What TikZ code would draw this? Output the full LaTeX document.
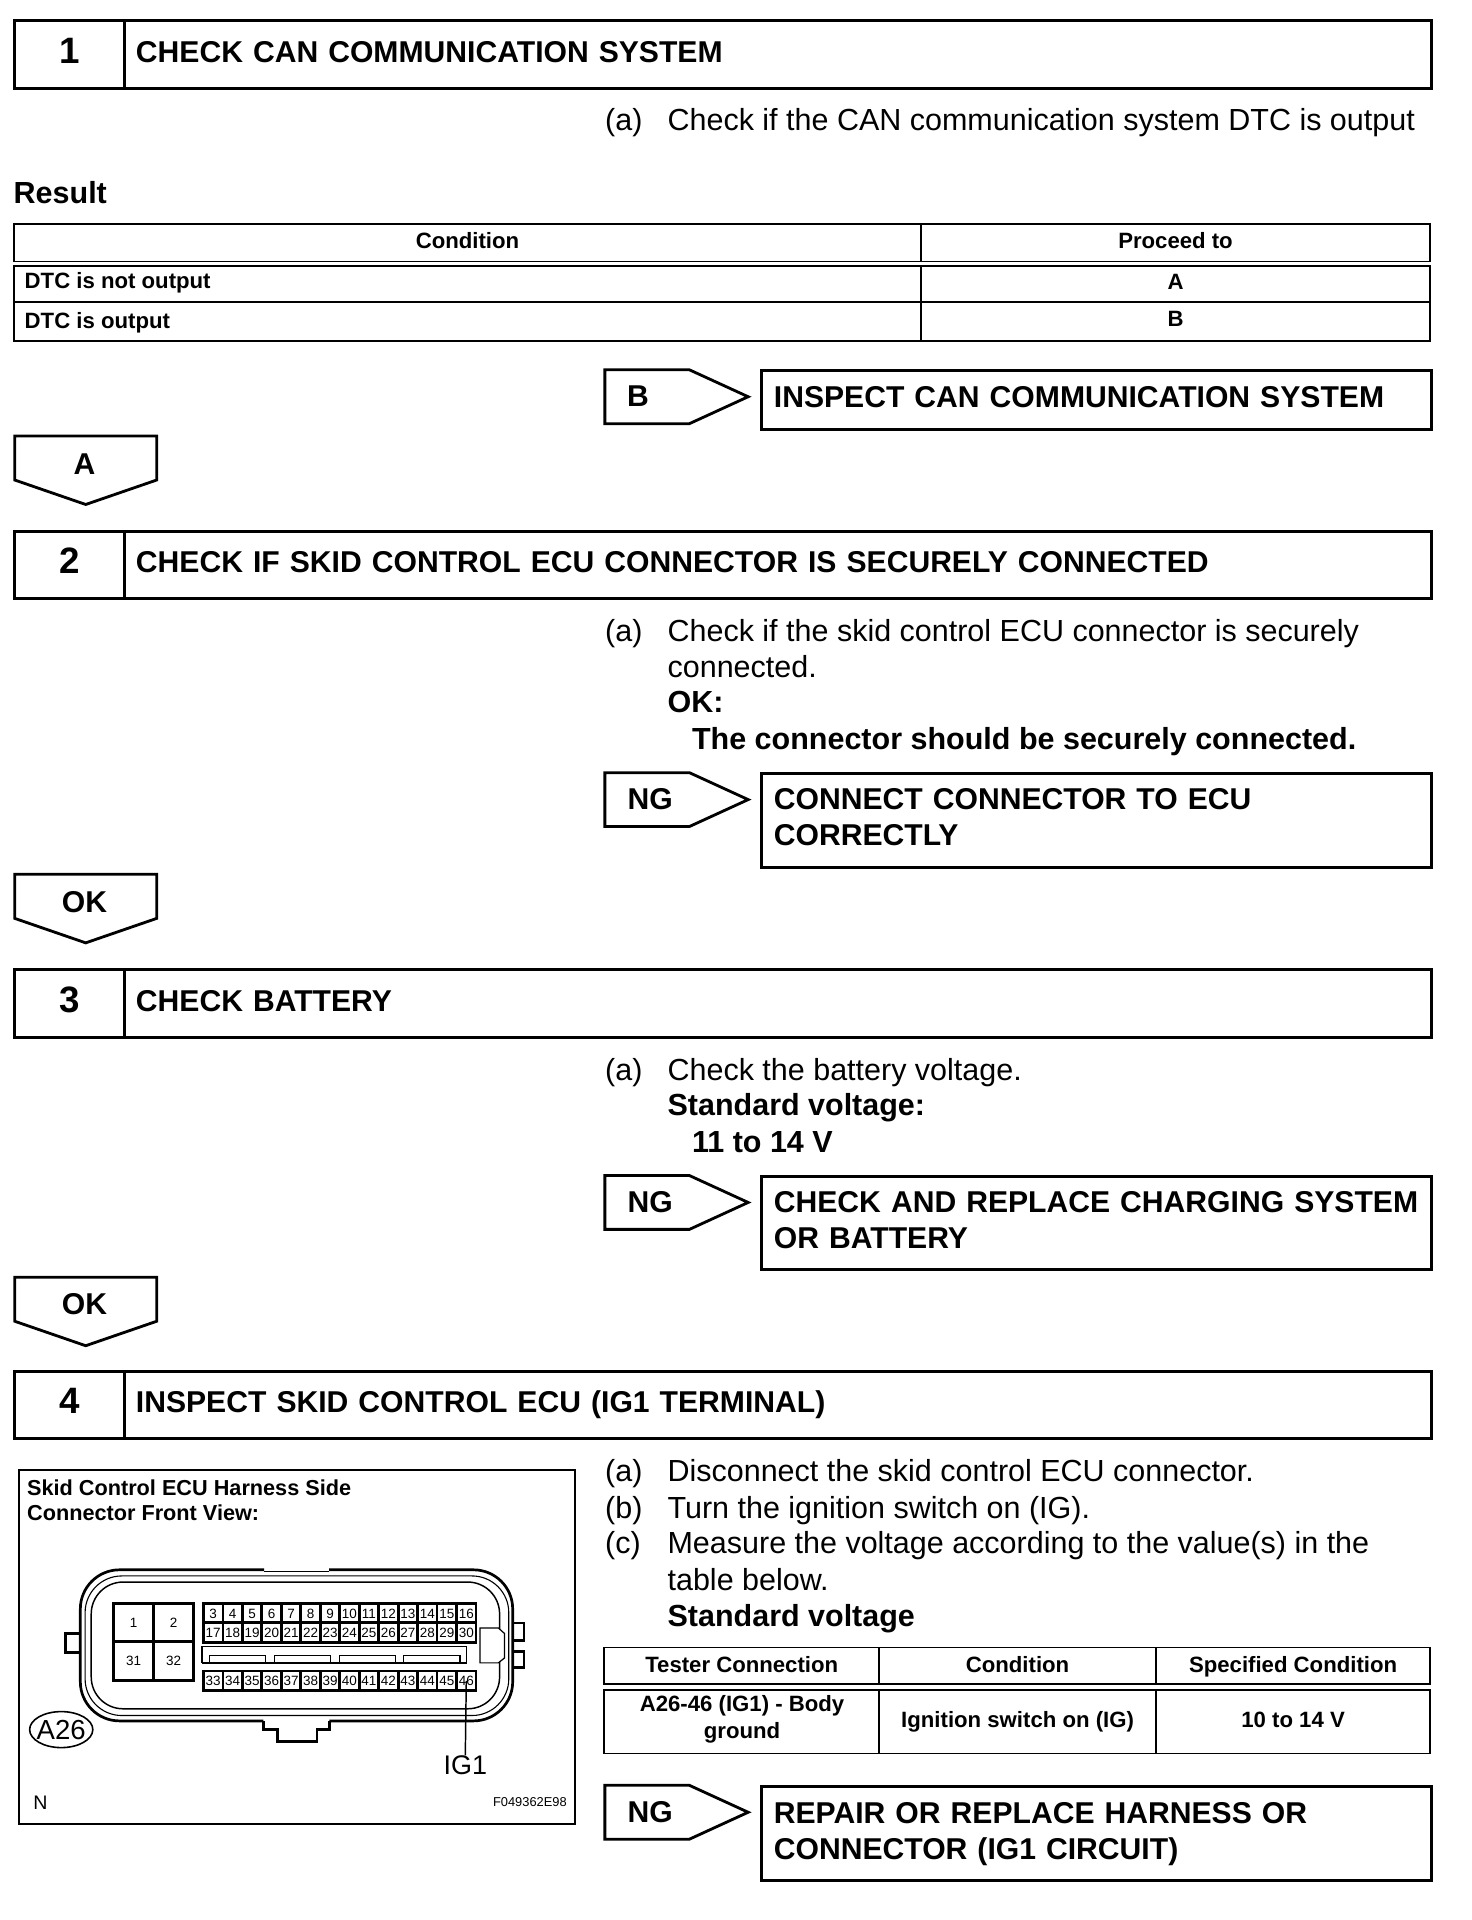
\documentclass[tikz,border=0pt]{standalone}
\usepackage{fontspec}
\setmainfont{Liberation Sans}
\newcommand{\liftbox}{\vphantom{(}\par\vskip7pt}
\begin{document}
\begin{tikzpicture}[x=1pt, y=-1pt,
  headbox/.style={draw, line width=2.6pt, outer sep=0pt, anchor=north west, minimum height=55pt, inner sep=0pt,
                  font=\fontsize{24.6}{29.5}\selectfont\bfseries},
  numbox/.style={headbox, minimum width=89.5pt, text height=22pt, text depth=7.6pt, font=\fontsize{30}{34}\selectfont\bfseries},
  stepbox/.style={headbox, minimum width=1067.5pt, text width=1048.5pt, align=left, execute at end node={\liftbox}},
  fixbox/.style={headbox, line width=2.4pt, minimum width=547pt, text width=527pt, align=left, execute at end node={\liftbox}},
  body/.style={anchor=base west, inner sep=0pt, font=\fontsize{24.9}{28}\selectfont},
  bodyb/.style={body, font=\fontsize{24.9}{28}\selectfont\bfseries},
  cell/.style={draw, line width=1.5pt, outer sep=0pt, anchor=north west, inner sep=0pt, text height=13pt, text depth=4pt,
               font=\fontsize{18.1}{22}\selectfont\bfseries},
  cellh/.style={cell, text depth=3pt},
  celltxt/.style={anchor=base west, inner sep=0pt, font=\fontsize{18.1}{22}\selectfont\bfseries},
  figtitle/.style={celltxt, font=\fontsize{17.7}{22}\selectfont\bfseries},
  tag/.style={anchor=center, inner sep=0pt, font=\fontsize{24.6}{29}\selectfont\bfseries},
  tagline/.style={draw, fill=white, line width=2.3pt, line join=miter},
  pin/.style={draw, line width=2.3pt, fill=white, minimum width=15.9pt, minimum height=16pt, inner sep=0pt,
              font=\fontsize{11}{12}\selectfont},
  big/.style={draw, line width=2.6pt, minimum width=32.7pt, minimum height=31.5pt, inner sep=0pt,
              font=\fontsize{11}{12}\selectfont},
  thinl/.style={line width=0.9pt},
  thickl/.style={line width=2.2pt}]
  \useasboundingbox (0,0) rectangle (1202,1568);
  % step 1
  \node[numbox] (num1) at (12,17) {1};
  \node[stepbox] (head1) at (101.5,17) {CHECK CAN COMMUNICATION SYSTEM};
  \node[body] (lab1a) at (494,106.5) {(a)};
  \node[body] (txt1a) at (545,106.5) {Check if the CAN communication system DTC is output};
  \node[bodyb] (result) at (11,166) {Result};
  \node[cell, minimum width=740.5pt, minimum height=30.5pt] (c11) at (11.5,183) {Condition};
  \node[cell, minimum width=416pt, minimum height=30.5pt] (c12) at (752,183) {Proceed to};
  \node[cell, minimum width=740.5pt, minimum height=29pt] (c21) at (11.5,217.5) {};
  \node[cell, minimum width=416pt, minimum height=29pt] (c22) at (752,217.5) {A};
  \node[cell, minimum width=740.5pt, minimum height=32pt] (c31) at (11.5,246.5) {};
  \node[cell, minimum width=416pt, minimum height=32pt] (c32) at (752,246.5) {B};
  \node[celltxt] (t21) at (20,236) {DTC is not output};
  \node[celltxt] (t31) at (20,268) {DTC is output};
  \draw[tagline] (494,302) -- (563,302) -- (611,324) -- (563,346) -- (494,346) -- cycle;
  \node[tag] (tagb) at (521,323.5) {B};
  \node[fixbox, minimum height=48pt] (fix1) at (622,302.5) {INSPECT CAN COMMUNICATION SYSTEM};
  \draw[tagline] (12,356) -- (128,356) -- (128,392) -- (70,412) -- (12,392) -- cycle;
  \node[tag] (taga) at (69,379) {A};
  % step 2
  \node[numbox] (num2) at (12,434) {2};
  \node[stepbox] (head2) at (101.5,434) {CHECK IF SKID CONTROL ECU CONNECTOR IS SECURELY CONNECTED};
  \node[body] (lab2a) at (494,523.5) {(a)};
  \node[body] (txt2a) at (545,523.5) {Check if the skid control ECU connector is securely};
  \node[body] (txt2b) at (545,553) {connected.};
  \node[bodyb] (txt2c) at (545,582) {OK:};
  \node[bodyb] (txt2d) at (565,612) {The connector should be securely connected.};
  \draw[tagline] (494,631) -- (563,631) -- (611,653) -- (563,675) -- (494,675) -- cycle;
  \node[tag] (tagng1) at (531,652.5) {NG};
  \node[fixbox, minimum height=77pt] (fix2) at (622,631.5) {CONNECT CONNECTOR TO ECU\\CORRECTLY};
  \draw[tagline] (12,714) -- (128,714) -- (128,750) -- (70,770) -- (12,750) -- cycle;
  \node[tag] (tagok1) at (69,737) {OK};
  % step 3
  \node[numbox] (num3) at (12,792) {3};
  \node[stepbox] (head3) at (101.5,792) {CHECK BATTERY};
  \node[body] (lab3a) at (494,882) {(a)};
  \node[body] (txt3a) at (545,882) {Check the battery voltage.};
  \node[bodyb] (txt3b) at (545,911) {Standard voltage:};
  \node[bodyb] (txt3c) at (565,941) {11 to 14 V};
  \draw[tagline] (494,960) -- (563,960) -- (611,982) -- (563,1004) -- (494,1004) -- cycle;
  \node[tag] (tagng2) at (531,981.5) {NG};
  \node[fixbox, minimum height=76.5pt] (fix3) at (622,960.5) {CHECK AND REPLACE CHARGING SYSTEM\\OR BATTERY};
  \draw[tagline] (12,1043) -- (128,1043) -- (128,1079) -- (70,1099) -- (12,1079) -- cycle;
  \node[tag] (tagok2) at (69,1065) {OK};
  % step 4
  \node[numbox] (num4) at (12,1120) {4};
  \node[stepbox] (head4) at (101.5,1120) {INSPECT SKID CONTROL ECU (IG1 TERMINAL)};
  \node[body] (lab4a) at (494,1210) {(a)};
  \node[body] (txt4a) at (545,1210) {Disconnect the skid control ECU connector.};
  \node[body] (lab4b) at (494,1240) {(b)};
  \node[body] (txt4b) at (545,1240) {Turn the ignition switch on (IG).};
  \node[body] (lab4c) at (494,1269) {(c)};
  \node[body] (txt4c) at (545,1269) {Measure the voltage according to the value(s) in the};
  \node[body] (txt4d) at (545,1298.5) {table below.};
  \node[bodyb] (txt4e) at (545,1328.5) {Standard voltage};
  \node[cellh, minimum width=224.5pt, minimum height=30pt] (s11) at (493.5,1345.5) {Tester Connection};
  \node[cellh, minimum width=226pt, minimum height=30pt] (s12) at (718,1345.5) {Condition};
  \node[cellh, minimum width=224pt, minimum height=30pt] (s13) at (944,1345.5) {Specified Condition};
  \node[cell, minimum width=224.5pt, minimum height=52pt] (s21) at (493.5,1380) {};
  \node[inner sep=0pt, align=center, font=\fontsize{18.1}{22}\selectfont\bfseries] (s21txt) at (606,1404) {A26-46 (IG1) - Body\\ground};
  \node[cell, minimum width=226pt, minimum height=52pt] (s22) at (718,1380) {Ignition switch on (IG)};
  \node[cell, minimum width=224pt, minimum height=52pt] (s23) at (944,1380) {10 to 14 V};
  \draw[tagline] (494,1458) -- (563,1458) -- (611,1480) -- (563,1502) -- (494,1502) -- cycle;
  \node[tag] (tagng3) at (531,1479.5) {NG};
  \node[fixbox, minimum height=77pt] (fix4) at (622,1459) {REPAIR OR REPLACE HARNESS OR\\CONNECTOR (IG1 CIRCUIT)};
  % connector figure
  \node[draw, line width=1.5pt, anchor=north west, minimum width=454pt, minimum height=289pt] (panel) at (15,1200) {};
  \node[figtitle] (title1) at (22,1221) {Skid Control ECU Harness Side};
  \node[figtitle] (title2) at (22,1242) {Connector Front View:};
  % housing
  \draw[thickl, rounded corners=32pt] (215.6,1282) -- (65.6,1282) -- (65.6,1405.4) -- (215,1405.4);
  \draw[thickl, rounded corners=32pt] (269,1405.4) -- (418.7,1405.4) -- (418.7,1282) -- (268.8,1282);
  \draw[thinl] (215.6,1283.5) -- (268.8,1283.5);
  \draw[thinl, rounded corners=30pt] (69.5,1287) rectangle (415.5,1401);
  \draw[line width=1.2pt, rounded corners=26pt] (74.5,1292) rectangle (408,1395.5);
  \draw[thickl] (65.6,1334) -- (53.5,1334) -- (53.5,1349.5) -- (65.6,1349.5);
  \draw[thickl] (418.7,1325.5) -- (428,1325.5) -- (428,1339.5) -- (418.7,1339.5);
  \draw[thickl] (418.7,1348.5) -- (428,1348.5) -- (428,1362) -- (418.7,1362);
  \draw[thickl] (215,1405.4) -- (215,1412.5) -- (226.5,1412.5) -- (226.5,1422) -- (259,1422) -- (259,1412.5) -- (269,1412.5) -- (269,1405.4);
  \draw[fill=white, line width=1pt] (392,1329.5) -- (407,1329.5) -- (412,1334) -- (412,1354) -- (407,1358) -- (392,1358) -- cycle;
  % power pins
  \node[big, anchor=north west] (p1) at (91.5,1308) {1};
  \node[big, anchor=north west] (p2) at (124.2,1308) {2};
  \node[big, anchor=north west] (p31) at (91.5,1339.5) {31};
  \node[big, anchor=north west] (p32) at (124.2,1339.5) {32};
  % signal pins
  \foreach \n [evaluate=\n as \col using {int(\n-3)}] in {3,...,16}
    \node[pin, anchor=north west] (pin\n) at (165+\col*15.9,1308.5) {\n};
  \foreach \n [evaluate=\n as \col using {int(\n-17)}] in {17,...,30}
    \node[pin, anchor=north west] (pin\n) at (165+\col*15.9,1324) {\n};
  \foreach \n [evaluate=\n as \col using {int(\n-33)}] in {33,...,46}
    \node[pin, anchor=north west] (pin\n) at (165+\col*15.9,1363.5) {\n};
  % slot
  \draw[line width=1pt] (165,1344.6) rectangle (381,1358);
  \draw[line width=1.6pt] (165,1358) -- (381,1358);
  \foreach \xa/\xb in {171/216.6,224/270,277/323,329.7/375.6}
    \draw[line width=1pt] (\xa,1358) -- (\xa,1352) -- (\xb,1352) -- (\xb,1358);
  \node[inner sep=0pt, font=\fontsize{22.5}{24}\selectfont] (a26) at (50,1412.5) {A26};
  \draw[line width=1.3pt] (a26.center) ellipse[x radius=25.8, y radius=14.7];
  \node[inner sep=0pt, font=\fontsize{22}{24}\selectfont] (ig1) at (380,1441.5) {IG1};
  \draw[line width=1.2pt] (pin46.center) -- (ig1.north);
  \node[anchor=base west, inner sep=0pt, font=\fontsize{16}{18}\selectfont] (north) at (27,1478) {N};
  \node[anchor=base east, inner sep=0pt, font=\fontsize{10.5}{12}\selectfont] (figid) at (463,1475) {F049362E98};
\end{tikzpicture}
\end{document}
